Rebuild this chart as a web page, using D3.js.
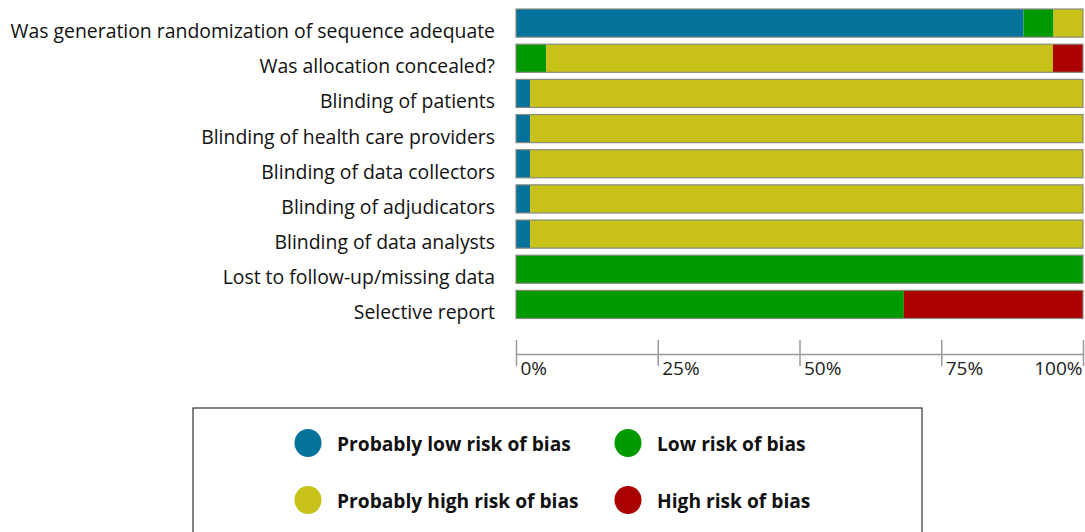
<!DOCTYPE html>
<html lang="en">
<head>
<meta charset="utf-8">
<script src="https://d3js.org/d3.v7.min.js"></script>
<style>
  body { margin: 0; background: #fff; }
  svg { display: block; }
</style>
</head>
<body>
<script>
// domains of bias assessment
var domains = [
  "Was generation randomization of sequence adequate",
  "Was allocation concealed? ",
  "Blinding of patients",
  "Blinding of health care providers",
  "Blinding of data collectors",
  "Blinding of adjudicators",
  "Blinding of data analysts",
  "Lost to follow-up/missing data",
  "Selective report"
];
// percent of studies per judgement, one value per domain
var probLow  = [89.5, 0,    2.5,  2.5,  2.5,  2.5,  2.5,  0,   0];
var low      = [5.3,  5.3,  0,    0,    0,    0,    0,    100, 68.4];
var probHigh = [5.2,  89.4, 97.5, 97.5, 97.5, 97.5, 97.5, 0,   0];
var high     = [0,    5.3,  0,    0,    0,    0,    0,    0,   31.6];

var seriesKeys = ["probLow", "low", "probHigh", "high"];
var seriesNames = ["Probably low risk of bias", "Low risk of bias",
                   "Probably high risk of bias", "High risk of bias"];
var seriesColors = ["#04729a", "#009a00", "#c8c118", "#aa0000"];
var ticks = [0, 25, 50, 75, 100];

var width = 1085, height = 532;
var svg = d3.select("body").append("svg")
    .attr("width", width)
    .attr("height", height);

var rows = domains.map(function(d, i) {
  return { name: d, probLow: probLow[i], low: low[i], probHigh: probHigh[i], high: high[i] };
});
var stacked = d3.stack().keys(seriesKeys)(rows);

var x = d3.scaleLinear().domain([0, 100]).range([516, 1083]);
var y = d3.scaleBand().domain(domains).range([5.5, 322]).paddingInner(0.2).paddingOuter(0.1);
var color = d3.scaleOrdinal().domain(seriesKeys).range(seriesColors);

var font = "'Open Sans', 'Noto Sans', sans-serif";

// category labels (sit a little below the bar centre, as in the original)
svg.append("g").selectAll("text")
    .data(domains)
    .enter().append("text")
    .attr("x", 495)
    .attr("y", function(d) { return y(d) + y.bandwidth() / 2 + 15; })
    .attr("text-anchor", "end")
    .attr("font-family", font)
    .attr("font-size", 19.4)
    .attr("fill", "#111")
    .text(function(d) { return d; });

// stacked bars
svg.append("g").selectAll("g")
    .data(stacked)
    .enter().append("g")
    .attr("fill", function(d) { return color(d.key); })
    .selectAll("rect")
    .data(function(d) { return d; })
    .enter().append("rect")
    .attr("x", function(d) { return x(d[0]); })
    .attr("y", function(d) { return y(d.data.name); })
    .attr("width", function(d) { return x(d[1]) - x(d[0]); })
    .attr("height", y.bandwidth());

// bar outlines
svg.append("g").selectAll("rect")
    .data(domains)
    .enter().append("rect")
    .attr("x", x(0))
    .attr("y", function(d) { return y(d); })
    .attr("width", x(100) - x(0))
    .attr("height", y.bandwidth())
    .attr("fill", "none")
    .attr("stroke", "#8a8a80")
    .attr("stroke-width", 1.2);

// x axis
var axis = svg.append("g")
    .attr("transform", "translate(0,354)")
    .call(d3.axisBottom(x).tickValues(ticks).tickSize(0).tickFormat(function(d) { return d + "%"; }));
axis.select(".domain").attr("stroke", "#999").attr("stroke-width", 1.5);
axis.selectAll(".tick line")
    .attr("y1", -14).attr("y2", 12)
    .attr("stroke", "#999").attr("stroke-width", 1.5);
axis.selectAll(".tick text")
    .attr("font-family", font)
    .attr("font-size", 19)
    .attr("fill", "#222")
    .attr("y", 8)
    .attr("dy", "0.71em")
    .attr("x", function(d) { return d === 100 ? -1 : 4; })
    .attr("text-anchor", function(d) { return d === 100 ? "end" : "start"; });

// legend
var legend = svg.append("g");
legend.append("rect")
    .attr("x", 193).attr("y", 408)
    .attr("width", 729).attr("height", 140)
    .attr("fill", "#fff")
    .attr("stroke", "#333")
    .attr("stroke-width", 1.2);

var item = legend.selectAll(".item")
    .data(seriesKeys)
    .enter().append("g")
    .attr("class", "item")
    .attr("transform", function(d, i) {
      return "translate(" + (i % 2 === 0 ? 308 : 628) + "," + (i < 2 ? 443 : 500) + ")";
    });
item.append("ellipse")
    .attr("rx", 13.5).attr("ry", 14)
    .attr("fill", function(d) { return color(d); });
item.append("text")
    .attr("x", 29)
    .attr("dy", "0.42em")
    .attr("font-family", font)
    .attr("font-weight", "bold")
    .attr("font-size", 19.2)
    .attr("fill", "#111")
    .text(function(d, i) { return seriesNames[i]; });
</script>
</body>
</html>
